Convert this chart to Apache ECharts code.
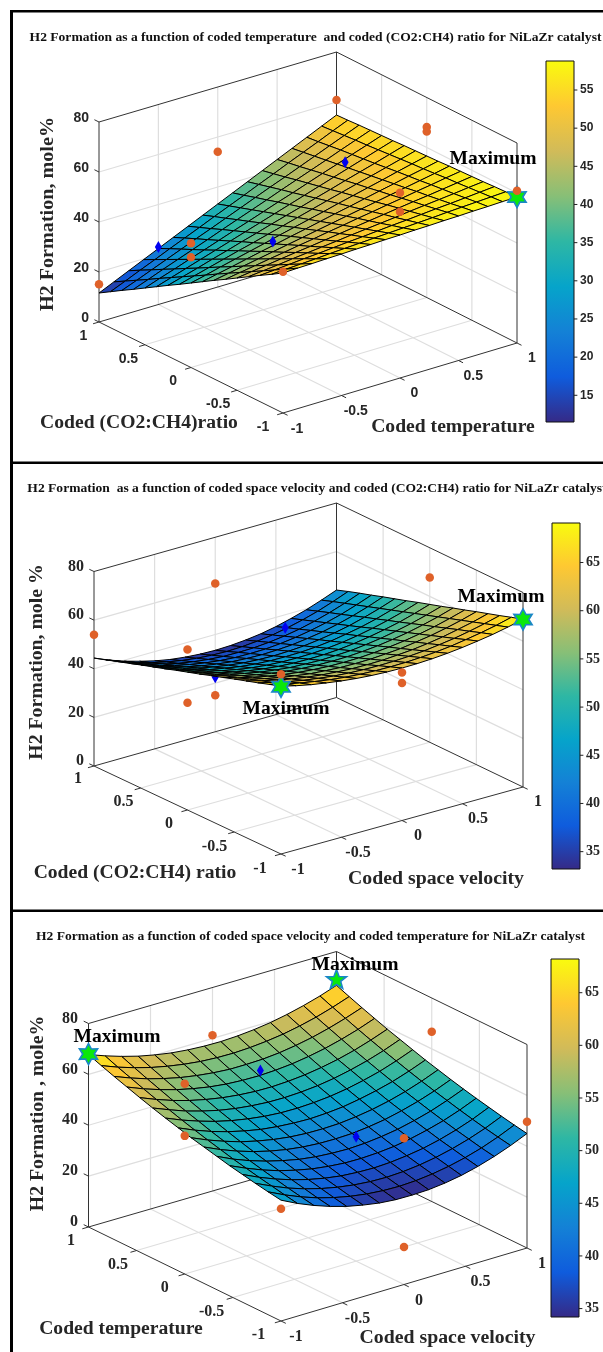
<!DOCTYPE html>
<html>
<head>
<meta charset="utf-8">
<style>html,body{margin:0;background:#fff}#main{width:603px;height:1352px}</style>
<script src="https://cdn.jsdelivr.net/npm/echarts@6/dist/echarts.min.js"></script>
</head>
<body>
<div id="main"></div>
<script>
// surface heights, each row is one y value going from -1 to 1, each column one x value from -1 to 1
var surfaceTempRatio = [
[56.0,56.2,56.3,56.5,56.6,56.8,56.9,57.1,57.2,57.4,57.5,57.7,57.8,58.0,58.1,58.3,58.4],
[53.2,53.5,53.8,54.1,54.5,54.8,55.1,55.4,55.7,56.0,56.3,56.6,57.0,57.3,57.6,57.9,58.2],
[50.5,50.9,51.4,51.9,52.3,52.8,53.3,53.7,54.2,54.7,55.1,55.6,56.1,56.5,57.0,57.5,58.0],
[47.7,48.3,48.9,49.6,50.2,50.8,51.4,52.1,52.7,53.3,53.9,54.6,55.2,55.8,56.4,57.1,57.7],
[44.9,45.7,46.5,47.3,48.1,48.8,49.6,50.4,51.2,52.0,52.8,53.6,54.4,55.1,55.9,56.7,57.5],
[42.1,43.1,44.0,45.0,45.9,46.9,47.8,48.8,49.7,50.7,51.6,52.6,53.5,54.5,55.4,56.4,57.3],
[39.4,40.5,41.6,42.7,43.8,44.9,46.0,47.1,48.2,49.3,50.4,51.5,52.6,53.7,54.8,55.9,57.1],
[36.6,37.9,39.1,40.4,41.7,42.9,44.2,45.4,46.7,48.0,49.2,50.5,51.8,53.0,54.3,55.5,56.8],
[33.8,35.2,36.7,38.1,39.5,40.9,42.4,43.8,45.2,46.6,48.1,49.5,50.9,52.3,53.8,55.2,56.6],
[31.0,32.6,34.2,35.8,37.4,38.9,40.5,42.1,43.7,45.3,46.9,48.5,50.1,51.6,53.2,54.8,56.4],
[28.3,30.0,31.7,33.5,35.2,37.0,38.7,40.5,42.2,43.9,45.7,47.4,49.2,50.9,52.6,54.4,56.2],
[25.5,27.4,29.3,31.2,33.1,35.0,36.9,38.8,40.7,42.6,44.5,46.4,48.3,50.2,52.1,54.0,55.9],
[22.7,24.8,26.8,28.9,30.9,33.0,35.1,37.1,39.2,41.3,43.3,45.4,47.5,49.5,51.6,53.6,55.7],
[19.9,22.1,24.4,26.6,28.8,31.0,33.3,35.5,37.7,39.9,42.2,44.4,46.6,48.8,51.1,53.3,55.5],
[17.2,19.5,21.9,24.3,26.7,29.1,31.4,33.8,36.2,38.6,41.0,43.3,45.7,48.1,50.5,52.9,55.3],
[14.4,16.9,19.5,22.0,24.6,27.1,29.6,32.2,34.7,37.2,39.8,42.3,44.9,47.4,49.9,52.5,55.0],
[11.6,14.3,17.0,19.7,22.4,25.1,27.8,30.5,33.2,35.9,38.6,41.3,44.0,46.7,49.4,52.1,54.8]
];
var surfaceVelocityRatio = [
[69.0,67.5,66.2,65.2,64.3,63.6,63.1,62.8,62.7,62.8,63.1,63.6,64.3,65.2,66.2,67.5,69.0],
[67.5,65.9,64.6,63.5,62.5,61.8,61.3,61.0,60.9,61.0,61.3,61.8,62.5,63.5,64.6,65.9,67.5],
[65.9,64.3,62.9,61.7,60.8,60.0,59.5,59.2,59.1,59.2,59.5,60.0,60.8,61.7,62.9,64.3,65.9],
[64.4,62.7,61.3,60.0,59.0,58.2,57.7,57.3,57.2,57.3,57.7,58.2,59.0,60.0,61.3,62.7,64.4],
[62.9,61.1,59.6,58.3,57.3,56.4,55.9,55.5,55.4,55.5,55.9,56.4,57.3,58.3,59.6,61.1,62.9],
[61.3,59.5,57.9,56.6,55.5,54.7,54.1,53.7,53.6,53.7,54.1,54.7,55.5,56.6,57.9,59.5,61.3],
[59.8,57.9,56.3,54.9,53.8,52.9,52.3,51.9,51.8,51.9,52.3,52.9,53.8,54.9,56.3,57.9,59.8],
[58.2,56.3,54.6,53.2,52.0,51.1,50.4,50.1,49.9,50.1,50.4,51.1,52.0,53.2,54.6,56.3,58.2],
[56.7,54.7,52.9,51.5,50.3,49.3,48.6,48.2,48.1,48.2,48.6,49.3,50.3,51.5,52.9,54.7,56.7],
[55.2,53.1,51.3,49.8,48.5,47.5,46.8,46.4,46.3,46.4,46.8,47.5,48.5,49.8,51.3,53.1,55.2],
[53.6,51.5,49.6,48.0,46.8,45.7,45.0,44.6,44.5,44.6,45.0,45.7,46.8,48.0,49.6,51.5,53.6],
[52.1,49.9,48.0,46.3,45.0,44.0,43.2,42.8,42.6,42.8,43.2,44.0,45.0,46.3,48.0,49.9,52.1],
[50.6,48.3,46.3,44.6,43.2,42.2,41.4,41.0,40.8,41.0,41.4,42.2,43.2,44.6,46.3,48.3,50.6],
[49.0,46.7,44.6,42.9,41.5,40.4,39.6,39.1,39.0,39.1,39.6,40.4,41.5,42.9,44.6,46.7,49.0],
[47.5,45.1,43.0,41.2,39.7,38.6,37.8,37.3,37.2,37.3,37.8,38.6,39.7,41.2,43.0,45.1,47.5],
[45.9,43.5,41.3,39.5,38.0,36.8,36.0,35.5,35.3,35.5,36.0,36.8,38.0,39.5,41.3,43.5,45.9],
[44.4,41.8,39.6,37.8,36.2,35.0,34.2,33.7,33.5,33.7,34.2,35.0,36.2,37.8,39.6,41.8,44.2]
];
var surfaceVelocityTemp = [
[47.5,44.3,41.6,39.3,37.4,36.0,34.9,34.3,34.2,34.4,35.1,36.2,37.8,39.8,42.2,45.0],
[48.3,45.2,42.5,40.2,38.4,37.0,36.0,35.4,35.2,35.5,36.2,37.3,38.8,40.7,43.1,45.9],
[49.2,46.2,43.5,41.3,39.5,38.1,37.1,36.5,36.3,36.6,37.3,38.4,39.9,41.8,44.1,46.9],
[50.2,47.2,44.6,42.4,40.6,39.2,38.2,37.7,37.5,37.8,38.5,39.5,41.0,42.9,45.2,48.0],
[51.2,48.3,45.7,43.5,41.8,40.4,39.5,38.9,38.8,39.1,39.7,40.8,42.3,44.1,46.4,49.1],
[52.4,49.4,46.9,44.8,43.1,41.7,40.8,40.3,40.1,40.4,41.1,42.1,43.6,45.4,47.7,50.3],
[53.6,50.7,48.2,46.1,44.4,43.1,42.2,41.7,41.6,41.8,42.5,43.5,45.0,46.8,49.0,51.6],
[54.8,52.0,49.6,47.5,45.9,44.6,43.7,43.2,43.1,43.3,44.0,45.0,46.4,48.2,50.4,53.0],
[56.2,53.4,51.0,49.0,47.4,46.1,45.3,44.8,44.6,44.9,45.5,46.6,48.0,49.7,51.9,54.4],
[57.6,54.9,52.6,50.6,49.0,47.8,46.9,46.4,46.3,46.6,47.2,48.2,49.6,51.3,53.5,56.0],
[59.1,56.5,54.1,52.2,50.6,49.4,48.6,48.1,48.0,48.3,48.9,49.9,51.3,53.0,55.1,57.6],
[60.7,58.1,55.8,53.9,52.4,51.2,50.4,49.9,49.8,50.1,50.7,51.7,53.0,54.7,56.8,59.2],
[62.4,59.8,57.6,55.7,54.2,53.0,52.2,51.8,51.7,52.0,52.6,53.6,54.9,56.6,58.6,61.0],
[64.1,61.6,59.4,57.6,56.1,55.0,54.2,53.7,53.7,53.9,54.5,55.5,56.8,58.5,60.5,62.8],
[65.9,63.4,61.3,59.5,58.1,57.0,56.2,55.8,55.7,56.0,56.6,57.5,58.8,60.4,62.4,64.7],
[67.8,65.4,63.3,61.5,60.1,59.0,58.3,57.9,57.8,58.1,58.7,59.6,60.9,62.5,64.4,66.7]
];

// experimental points [x, y, z]
var orange1 = [[-1,1,15.1],[0,1,54.1],[-1,0,49.7],[-1,0,44.1],[-1,-1,56.5],[1,1,60.8],[1,0,68.2],[1,0,66.4],[0,-1,74.1],[0,-1,66.5],[1,-1,60.9]];
var blue1 = [[-0.5,1,23],[-0.5,-0.25,48],[0.5,0.25,56.6]];
var stars1 = [[1,-1,58.4,6]];
var orange2 = [[-1,1,54],[0,1,61],[-1,0,66],[-1,-1,73.9],[1,0,67.8],[0,-1,60.9],[0,-1,56.6],[-1,0,44.1],[0,1,15]];
var blue2 = [[0.5,0.9,37.6]];
var blueUnder2 = [[0,1,22.4],[0.5,0.4,30.7]];
var stars2 = [[1,-1,68.9,6],[-1,-1,68.8,6]];
var orange3 = [[0,1,61.2],[-1,0,74.8],[-1,0,54.3],[1,0,66.7],[1,-1,49.6],[0,-1,57.5],[-1,-1,44.1],[0,-1,14.7]];
var blue3 = [[0,0.5,56.6],[0,-0.5,48.9]];
var stars3 = [[-1,1,68,6],[1,1,68.8,5]];

var xyTicks = [-1,-0.5,0,0.5,1];
var zTicks = [0,20,40,60,80];
var barTicks1 = [15,20,25,30,35,40,45,50,55];
var barTicks2 = [35,40,45,50,55,60,65];
var barTicks3 = [35,40,45,50,55,60,65];
var parula = ['#352a87','#0f5cdd','#1481d6','#06a4ca','#2eb7a4','#87bf77','#d1bb59','#fec832','#f9fb0e'];

var serif = '"Liberation Serif"';
var sans = '"Liberation Sans"';

var panels = [
	{ z: surfaceTempRatio, orange: orange1, blue: blue1, under: [], stars: stars1, barTicks: barTicks1, cmin: 11.5, cmax: 58.8,
		left: [99,322], front: [283,413], right: [517,343], back: [336.5,252], zPx: 200, top: 12, h: 450,
		bar: [546,61,28,361], tickFont: 'bold 14px ' + sans, barFont: [12, 'Liberation Sans'],
		zOff: [-10,-4], yOff: [[-20,14],[-15.5,14]], xOff: [[14,16],[15,15]] },
	{ z: surfaceVelocityRatio, orange: orange2, blue: blue2, under: blueUnder2, stars: stars2, barTicks: barTicks2, cmin: 33.2, cmax: 69.1,
		left: [94,766], front: [281,854], right: [523,787], back: [336.5,697.5], zPx: 194.5, top: 463, h: 447,
		bar: [552,523,28,346], tickFont: 'bold 16px ' + serif, barFont: [14, 'Liberation Serif'],
		zOff: [-10,-5], yOff: [[-21,15],[-16,13]], xOff: [[17,16],[15,15]] },
	{ z: surfaceVelocityTemp, orange: orange3, blue: blue3, under: [], stars: stars3, barTicks: barTicks3, cmin: 34.2, cmax: 68.2,
		left: [88.5,1227], front: [281,1321], right: [527,1248], back: [336.5,1155], zPx: 203.5, top: 911, h: 441,
		bar: [551,959,28,358], tickFont: 'bold 16px ' + serif, barFont: [14, 'Liberation Serif'],
		zOff: [-10.5,-5], yOff: [[-22.5,14],[-17.5,14]], xOff: [[15,16],[15,16]] }
];

function project(p, x, y, z) {
	var a = (1 + x) / 2, b = (1 + y) / 2;
	var sx = (1-a)*(1-b)*p.front[0] + a*(1-b)*p.right[0] + (1-a)*b*p.left[0] + a*b*p.back[0];
	var sy = (1-a)*(1-b)*p.front[1] + a*(1-b)*p.right[1] + (1-a)*b*p.left[1] + a*b*p.back[1];
	return [sx, sy - z / 80 * p.zPx];
}

function barColor(p, v) {
	var t = Math.max(0, Math.min(1, (v - p.cmin) / (p.cmax - p.cmin)));
	return echarts.color.lerp(t, parula);
}

function segments(kind) {
	var out = [], inner = [-0.5,0,0.5], levels = [20,40,60];
	if (kind == 'grid') {
		inner.forEach(function (t) {
			out.push([t,-1,0,t,1,0],[-1,t,0,1,t,0],[t,1,0,t,1,80],[1,t,0,1,t,80]);
		});
		levels.forEach(function (l) {
			out.push([-1,1,l,1,1,l],[1,1,l,1,-1,l]);
		});
	} else if (kind == 'box') {
		out.push([-1,1,0,-1,-1,0],[-1,-1,0,1,-1,0],[1,-1,0,1,1,0],[1,1,0,-1,1,0]);
		out.push([-1,1,80,1,1,80],[1,1,80,1,-1,80]);
		out.push([-1,1,0,-1,1,80],[1,1,0,1,1,80],[1,-1,0,1,-1,80]);
	} else {
		xyTicks.forEach(function (t) {
			out.push([t,-1,0,t,-1.05,0],[-1,t,0,-1.05,t,0]);
		});
		zTicks.forEach(function (l) {
			out.push([-1,1,l,-1,1.05,l]);
		});
	}
	return out;
}

function lineSeries(p, idx, kind, color, width, z) {
	return {
		type: 'custom', xAxisIndex: idx, yAxisIndex: idx, silent: true, clip: false, z: z,
		data: segments(kind),
		renderItem: function (params, api) {
			var a = api.coord(project(p, api.value(0), api.value(1), api.value(2)));
			var b = api.coord(project(p, api.value(3), api.value(4), api.value(5)));
			return { type: 'line', shape: { x1: a[0], y1: a[1], x2: b[0], y2: b[1] }, style: { stroke: color, lineWidth: width } };
		}
	};
}

function surfaceSeries(p, idx) {
	var n = p.z.length, cells = [];
	for (var k = 0; k < n - 1; k++) {
		for (var i = 0; i < n - 1; i++) cells.push([i, k]);
	}
	// back corner first, so nearer cells paint over farther ones
	cells.sort(function (c, d) { return (d[0] + d[1]) - (c[0] + c[1]); });
	function node(api, i, k) {
		return api.coord(project(p, -1 + 2 * i / (n - 1), -1 + 2 * k / (n - 1), p.z[k][i]));
	}
	return {
		type: 'custom', xAxisIndex: idx, yAxisIndex: idx, silent: true, clip: false, z: 4, progressive: 0,
		data: cells,
		renderItem: function (params, api) {
			var i = api.value(0), k = api.value(1);
			var mean = (p.z[k][i] + p.z[k][i+1] + p.z[k+1][i] + p.z[k+1][i+1]) / 4;
			return {
				type: 'polygon',
				shape: { points: [node(api,i,k), node(api,i+1,k), node(api,i+1,k+1), node(api,i,k+1)] },
				style: { fill: barColor(p, mean), stroke: '#000', lineWidth: 1, lineJoin: 'round' }
			};
		}
	};
}

function pointSeries(p, idx, pts, symbol, size, color, z) {
	return {
		type: 'scatter', xAxisIndex: idx, yAxisIndex: idx, silent: true, clip: false, z: z,
		symbol: symbol, symbolSize: size, itemStyle: { color: color, opacity: 1 },
		data: pts.map(function (q) { return project(p, q[0], q[1], q[2]); })
	};
}

function starSeries(p, idx) {
	return {
		type: 'custom', xAxisIndex: idx, yAxisIndex: idx, silent: true, clip: false, z: 6,
		data: p.stars,
		renderItem: function (params, api) {
			var c = api.coord(project(p, api.value(0), api.value(1), api.value(2)));
			var n = api.value(3), inner = n == 6 ? 5.8 : 4.4, pts = [];
			for (var s = 0; s < n * 2; s++) {
				var r = s % 2 ? inner : 10.5, ang = -Math.PI / 2 + s * Math.PI / n;
				pts.push([c[0] + r * Math.cos(ang), c[1] + r * Math.sin(ang)]);
			}
			return { type: 'polygon', shape: { points: pts }, style: { fill: '#0be80b', stroke: '#1a86c8', lineWidth: 1.6 } };
		}
	};
}

function tickLabelSeries(p, idx) {
	var items = [];
	xyTicks.forEach(function (t) {
		var f = (t + 1) / 2;
		items.push({ value: [-1, t, 0, p.yOff[0][0] + f * (p.yOff[1][0] - p.yOff[0][0]), p.yOff[0][1] + f * (p.yOff[1][1] - p.yOff[0][1])], text: String(t), align: 'center' });
		items.push({ value: [t, -1, 0, p.xOff[0][0] + f * (p.xOff[1][0] - p.xOff[0][0]), p.xOff[0][1] + f * (p.xOff[1][1] - p.xOff[0][1])], text: String(t), align: 'center' });
	});
	zTicks.forEach(function (l) {
		items.push({ value: [-1, 1, l, p.zOff[0], p.zOff[1]], text: String(l), align: 'right' });
	});
	return {
		type: 'custom', xAxisIndex: idx, yAxisIndex: idx, silent: true, clip: false, z: 3,
		data: items.map(function (it) { return it.value; }),
		renderItem: function (params, api) {
			var it = items[params.dataIndex];
			var c = api.coord(project(p, api.value(0), api.value(1), api.value(2)));
			return {
				type: 'text', x: c[0] + api.value(3), y: c[1] + api.value(4),
				style: { text: it.text, font: p.tickFont, fill: '#262626', textAlign: it.align, textVerticalAlign: 'middle' }
			};
		}
	};
}

function barSeries(p, idx) {
	var stops = parula.map(function (c, i) { return { offset: i / (parula.length - 1), color: c }; });
	return {
		type: 'custom', xAxisIndex: idx, yAxisIndex: idx, silent: true, z: 2,
		data: [[0, p.cmin, 1, p.cmax]],
		renderItem: function (params, api) {
			var a = api.coord([api.value(0), api.value(1)]);
			var b = api.coord([api.value(2), api.value(3)]);
			return {
				type: 'rect', shape: { x: a[0], y: b[1], width: b[0] - a[0], height: a[1] - b[1] },
				style: { fill: new echarts.graphic.LinearGradient(0, 1, 0, 0, stops) }
			};
		}
	};
}

function barTickSeries(p, idx) {
	return {
		type: 'custom', xAxisIndex: idx, yAxisIndex: idx, silent: true, clip: false, z: 3,
		data: p.barTicks.map(function (v) { return [v]; }),
		renderItem: function (params, api) {
			var a = api.coord([1, api.value(0)]);
			var b = api.coord([1.12, api.value(0)]);
			return { type: 'line', shape: { x1: a[0], y1: a[1], x2: b[0], y2: b[1] }, style: { stroke: '#222', lineWidth: 1 } };
		}
	};
}

var grids = [], xAxes = [], yAxes = [], series = [];
panels.forEach(function (p, n) {
	var idx = n * 2, bi = idx + 1;
	grids.push({ left: 0, top: p.top, width: 603, height: p.h });
	xAxes.push({ type: 'value', gridIndex: idx, min: 0, max: 603, show: false });
	yAxes.push({ type: 'value', gridIndex: idx, min: p.top, max: p.top + p.h, inverse: true, show: false });
	grids.push({ left: p.bar[0], top: p.bar[1], width: p.bar[2], height: p.bar[3], show: true, borderColor: '#111', borderWidth: 1, backgroundColor: 'transparent', z: 3 });
	xAxes.push({ type: 'value', gridIndex: bi, min: 0, max: 1, show: false });
	yAxes.push({
		type: 'value', gridIndex: bi, position: 'right', min: p.cmin, max: p.cmax,
		splitLine: { show: false },
		axisLine: { show: false },
		axisTick: { show: false },
		axisLabel: { customValues: p.barTicks, margin: 6, fontWeight: 'bold', fontSize: p.barFont[0], fontFamily: p.barFont[1], color: '#262626' }
	});
	series.push(lineSeries(p, idx, 'grid', '#dedede', 1.2, 1));
	series.push(lineSeries(p, idx, 'box', '#333', 1, 2));
	series.push(lineSeries(p, idx, 'tick', '#333', 1, 2));
	series.push(tickLabelSeries(p, idx));
	if (p.under.length) series.push(pointSeries(p, idx, p.under, 'diamond', [7, 12], '#0000f0', 3));
	series.push(surfaceSeries(p, idx));
	series.push(pointSeries(p, idx, p.blue, 'diamond', [7, 12], '#0000f0', 5));
	series.push(starSeries(p, idx));
	series.push(pointSeries(p, idx, p.orange, 'circle', 8.5, '#df6129', 7));
	series.push(barSeries(p, bi));
	series.push(barTickSeries(p, bi));
});

function label(text, x, y, font, fill, extra) {
	var el = { type: 'text', x: x, y: y, z: 50, silent: true,
		style: { text: text, font: font, fill: fill || '#262626', textAlign: 'center', textVerticalAlign: 'middle' } };
	for (var key in (extra || {})) el[key] = extra[key];
	return el;
}

var heavy = 'bold 18px ' + serif;
var zLabelFont = 'bold 19px ' + serif;
var titleFont = 'bold 12px ' + serif;
var maxFont = 'bold 19px ' + serif;
var texts = [
	label('H2 Formation as a function of coded temperature  and coded (CO2:CH4) ratio for NiLaZr catalyst', 315.5, 38, titleFont, '#111', { scaleX: 1.13 }),
	label('H2 Formation, mole%', 48, 214, zLabelFont, '#262626', { rotation: Math.PI / 2, scaleX: 1.06 }),
	label('Coded (CO2:CH4)ratio', 139, 423, heavy, null, { scaleX: 1.09 }),
	label('Coded temperature', 453, 427, heavy, null, { scaleX: 1.09 }),
	label('Maximum', 493, 159, maxFont, '#000', { scaleX: 1.03 }),
	label('H2 Formation  as a function of coded space velocity and coded (CO2:CH4) ratio for NiLaZr catalyst', 317, 489, titleFont, '#111', { scaleX: 1.13 }),
	label('H2 Formation, mole %', 37, 662, zLabelFont, '#262626', { rotation: Math.PI / 2, scaleX: 1.04 }),
	label('Coded (CO2:CH4) ratio', 135, 873, heavy, null, { scaleX: 1.09 }),
	label('Coded space velocity', 436, 879, heavy, null, { scaleX: 1.1 }),
	label('Maximum', 501, 597, maxFont, '#000', { scaleX: 1.03 }),
	label('Maximum', 286, 709, maxFont, '#000', { scaleX: 1.03 }),
	label('H2 Formation as a function of coded space velocity and coded temperature for NiLaZr catalyst', 310.5, 937, titleFont, '#111', { scaleX: 1.13 }),
	label('H2 Formation , mole%', 38.5, 1113.5, zLabelFont, '#262626', { rotation: Math.PI / 2, scaleX: 1.04 }),
	label('Coded temperature', 121, 1329, heavy, null, { scaleX: 1.09 }),
	label('Coded space velocity', 447.5, 1338, heavy, null, { scaleX: 1.1 }),
	label('Maximum', 355, 965, maxFont, '#000', { scaleX: 1.03 }),
	label('Maximum', 117, 1037, maxFont, '#000', { scaleX: 1.03 })
];
var frame = [[10,10,3,1342],[10,10,593,2.5],[10,461.5,593,2.5],[10,909.5,593,2.5]].map(function (r) {
	return { type: 'rect', z: 60, silent: true, shape: { x: r[0], y: r[1], width: r[2], height: r[3] }, style: { fill: '#000' } };
});

var myChart = echarts.init(document.getElementById('main'));
myChart.setOption({
	animation: false,
	backgroundColor: '#fff',
	grid: grids,
	xAxis: xAxes,
	yAxis: yAxes,
	series: series,
	graphic: { elements: texts.concat(frame) }
});
</script>
</body>
</html>
